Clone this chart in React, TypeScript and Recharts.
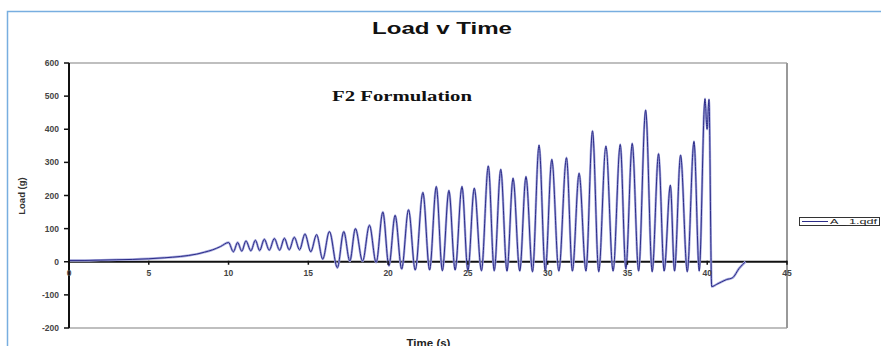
import { LineChart, Line, XAxis, YAxis, ReferenceLine } from "recharts";

// slow ramp before the cycling starts (s, g)
const rampTimes = [0, 1, 2, 3, 4, 5, 6, 7, 7.5, 8, 8.5, 9, 9.5, 10];
const rampLoads = [4, 4, 5, 6, 7, 9, 12, 16, 19, 23, 29, 36, 46, 58];

// cycling: alternating trough / peak
const cycleTimes = [
  10.3, 10.57, 10.83, 11.09, 11.4, 11.68, 11.95, 12.24, 12.55, 12.87,
  13.2, 13.5, 13.8, 14.12, 14.45, 14.79, 15.15, 15.52, 15.9, 16.32,
  16.82, 17.22, 17.6, 17.95, 18.4, 18.83, 19.25, 19.67, 20.05, 20.44,
  20.85, 21.28, 21.7, 22.18, 22.6, 23.02, 23.4, 23.81, 24.2, 24.63,
  25.0, 25.4, 25.85, 26.28, 26.65, 27.06, 27.45, 27.83, 28.25, 28.64,
  29.05, 29.46, 29.85, 30.26, 30.7, 31.18, 31.55, 31.97, 32.4, 32.81,
  33.2, 33.65, 34.1, 34.55, 34.9, 35.3, 35.7, 36.14, 36.55, 36.95,
  37.3, 37.69, 37.95, 38.33, 38.75, 39.17, 39.5, 39.86, 39.99, 40.11,
];
const cycleLoads = [
  30, 58, 32, 63, 33, 65, 34, 68, 35, 70,
  35, 71, 36, 74, 36, 84, 30, 82, 8, 91,
  -18, 91, 2, 100, 2, 110, -2, 150, -12, 140,
  -22, 157, -25, 209, -25, 227, -27, 215, -25, 227,
  -27, 222, -27, 289, -27, 279, -28, 252, -28, 257,
  -30, 352, -28, 309, -28, 314, -28, 267, -28, 395,
  -30, 349, -28, 354, -22, 357, -28, 458, -30, 326,
  -28, 231, -28, 322, -30, 363, -28, 492, 400, 490,
];

// release after the last cycle
const tailTimes = [40.28, 40.6, 41.2, 41.6, 42.0, 42.4];
const tailLoads = [-75, -68, -54, -48, -20, 0];

const xTicks = [0, 5, 10, 15, 20, 25, 30, 35, 40, 45];
const yTicks = [-200, -100, 0, 100, 200, 300, 400, 500, 600];

const times = [...rampTimes, ...cycleTimes, ...tailTimes];
const loads = [...rampLoads, ...cycleLoads, ...tailLoads];
const data = times.map((t, i) => ({ t, load: loads[i] }));

const W = 881;
const H = 346;
const PLOT_TOP = 63;
const PLOT_H = 265;
const ZERO_Y = PLOT_TOP + (PLOT_H * 600) / 800;
const LINE_COLOR = "#2c2c88";
const FONT = "'Liberation Sans', Arial, sans-serif";

function ZeroTick(props: any) {
  const { x, payload } = props;
  return (
    <g>
      <line x1={x} x2={x} y1={ZERO_Y - 1} y2={ZERO_Y + 3} stroke="#111" strokeWidth={1.5} />
      <text
        x={x}
        y={ZERO_Y + 14}
        textAnchor="middle"
        fontSize={8.5}
        fontWeight="bold"
        fontFamily={FONT}
        fill="#444"
      >
        {payload.value}
      </text>
    </g>
  );
}

export default function App() {
  return (
    <div style={{ position: "absolute", left: 0, top: 0, width: W, height: H, background: "#fff", overflow: "hidden" }}>
      <LineChart
        width={W}
        height={H}
        data={data}
        margin={{ top: PLOT_TOP, right: 94, bottom: 0, left: 20 }}
      >
        <XAxis
          dataKey="t"
          type="number"
          domain={[0, 45]}
          ticks={xTicks}
          height={18}
          axisLine={false}
          tickLine={false}
          tick={<ZeroTick />}
          interval={0}
        />
        <YAxis
          type="number"
          domain={[-200, 600]}
          ticks={yTicks}
          width={49}
          axisLine={{ stroke: "#111", strokeWidth: 2 }}
          tickLine={{ stroke: "#111", strokeWidth: 1.5 }}
          tickSize={5}
          tickMargin={5}
          interval={0}
          tick={{ fontSize: 8.5, fontWeight: "bold", fill: "#444", fontFamily: FONT }}
        />
        <ReferenceLine y={600} stroke="#aaa" strokeWidth={1.5} />
        <ReferenceLine y={-200} stroke="#aaa" strokeWidth={1.5} />
        <ReferenceLine x={45} stroke="#999" strokeWidth={2} />
        <ReferenceLine y={0} stroke="#111" strokeWidth={2} />
        {/* soft halo under the trace, like the blurred original */}
        <Line
          type="monotone"
          dataKey="load"
          stroke="#a7aade"
          strokeWidth={2.4}
          dot={false}
          activeDot={false}
          isAnimationActive={false}
        />
        <Line
          type="monotone"
          dataKey="load"
          stroke={LINE_COLOR}
          strokeWidth={1}
          dot={false}
          activeDot={false}
          isAnimationActive={false}
        />
      </LineChart>
      <svg
        width={W}
        height={H}
        style={{ position: "absolute", left: 0, top: 0, pointerEvents: "none" }}
      >
        <rect x={7.5} y={11.5} width={900} height={400} fill="none" stroke="#78aee0" strokeWidth={1.5} />
        <text
          x={372}
          y={33.5}
          fontSize={17}
          fontWeight="bold"
          fontFamily={FONT}
          fill="#111"
          textLength={140}
          lengthAdjust="spacingAndGlyphs"
        >
          Load v Time
        </text>
        <text
          x={332}
          y={101}
          fontSize={14}
          fontWeight="bold"
          fontFamily="'Liberation Serif', 'Times New Roman', serif"
          fill="#111"
          textLength={140}
          lengthAdjust="spacingAndGlyphs"
        >
          F2 Formulation
        </text>
        <text
          x={21}
          y={196}
          transform="rotate(-90 21 196)"
          textAnchor="middle"
          dominantBaseline="central"
          fontSize={9.5}
          fontWeight="bold"
          fontFamily={FONT}
          fill="#333"
        >
          Load (g)
        </text>
        <text
          x={428.5}
          y={347}
          textAnchor="middle"
          fontSize={11.5}
          fontWeight="bold"
          fontFamily={FONT}
          fill="#222"
        >
          Time (s)
        </text>
        <rect x={799.5} y={217.5} width={80} height={8} fill="#fff" stroke="#333" strokeWidth={1} />
        <line x1={802} x2={828} y1={221.5} y2={221.5} stroke={LINE_COLOR} strokeWidth={1} />
        <text
          x={830}
          y={224.3}
          fontSize={6.5}
          fontFamily={FONT}
          fill="#222"
          textLength={47}
          lengthAdjust="spacingAndGlyphs"
        >
          A_  1.qdf
        </text>
      </svg>
    </div>
  );
}
